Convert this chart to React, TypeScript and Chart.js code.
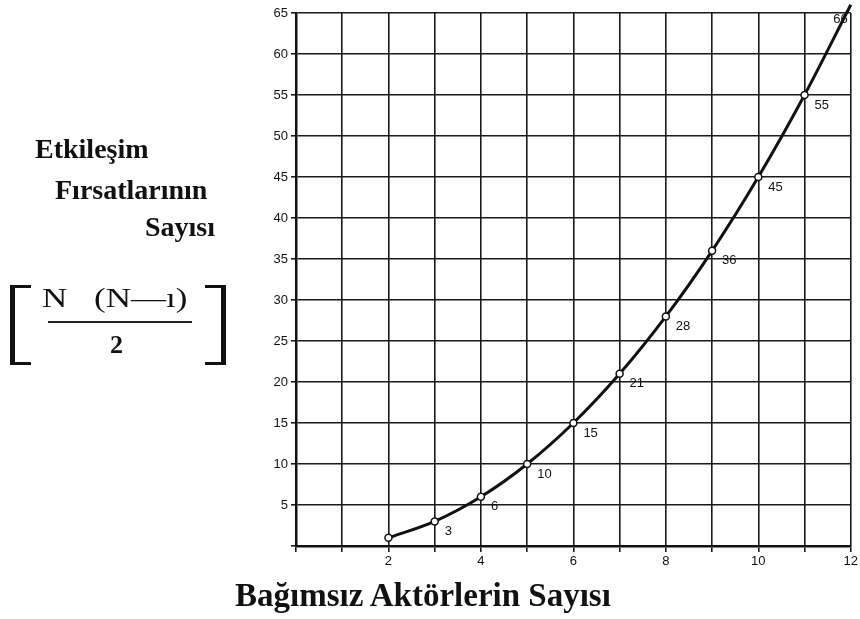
import React, { useEffect, useRef } from "react";
import { Chart, registerables } from "chart.js";

Chart.register(...registerables);

const actors = [2, 3, 4, 5, 6, 7, 8, 9, 10, 11, 12];
const opportunities = [1, 3, 6, 10, 15, 21, 28, 36, 45, 55, 66];
const pointLabels = ["", "3", "6", "10", "15", "21", "28", "36", "45", "55", "66"];
const xTickLabels = [2, 4, 6, 8, 10, 12];
const yTickLabels = [5, 10, 15, 20, 25, 30, 35, 40, 45, 50, 55, 60, 65];

const ink = "#111";
const sans = "'Liberation Sans', Arial, sans-serif";

const labelPlugin = {
  id: "pointLabels",
  afterDatasetsDraw(chart: any) {
    const ctx = chart.ctx;
    const meta = chart.getDatasetMeta(0);
    ctx.save();
    ctx.font = `13px ${sans}`;
    ctx.fillStyle = ink;
    ctx.textBaseline = "middle";
    meta.data.forEach((pt: any, i: number) => {
      const t = pointLabels[i];
      if (!t) return;
      const last = i === meta.data.length - 1;
      if (last) {
        ctx.textAlign = "right";
        ctx.fillText(t, pt.x - 3, pt.y + 15);
      } else {
        ctx.textAlign = "left";
        ctx.fillText(t, pt.x + 10, pt.y + 10);
      }
    });
    ctx.restore();
  },
};

export default function App() {
  const ref = useRef<HTMLCanvasElement | null>(null);
  useEffect(() => {
    if (!ref.current) return;
    const chart = new Chart(ref.current, {
      type: "line",
      data: {
        datasets: [
          {
            data: actors.map((x, i) => ({ x, y: opportunities[i] })),
            borderColor: ink,
            borderWidth: 3,
            pointRadius: 3.5,
            pointBackgroundColor: "#fff",
            pointBorderColor: ink,
            pointBorderWidth: 1.5,
            cubicInterpolationMode: "monotone",
            clip: false,
          } as any,
        ],
      },
      plugins: [labelPlugin],
      options: {
        animation: false,
        responsive: false,
        maintainAspectRatio: false,
        layout: { padding: { top: 13, right: 7, left: 0, bottom: 0 } },
        plugins: { legend: { display: false }, tooltip: { enabled: false } },
        scales: {
          x: {
            type: "linear",
            min: 0,
            max: 12,
            afterFit(scale: any) {
              scale.height = 73;
            },
            afterBuildTicks(scale: any) {
              scale.ticks = Array.from({ length: 13 }, (_, i) => ({ value: i }));
            },
            ticks: {
              autoSkip: false,
              maxRotation: 0,
              color: ink,
              padding: 2,
              font: { family: sans, size: 13 },
              callback: (v: any) => (xTickLabels.includes(Number(v)) ? String(v) : ""),
            },
            grid: { color: "#1a1a1a", lineWidth: 1.6, tickLength: 6, drawTicks: true },
            border: { color: ink, width: 2.5 },
          },
          y: {
            type: "linear",
            min: 0,
            max: 65,
            afterFit(scale: any) {
              scale.width = 296;
            },
            afterBuildTicks(scale: any) {
              scale.ticks = [0, ...yTickLabels].map((v) => ({ value: v }));
            },
            ticks: {
              autoSkip: false,
              color: ink,
              padding: 3,
              font: { family: sans, size: 13 },
              callback: (v: any) => (yTickLabels.includes(Number(v)) ? String(v) : ""),
            },
            grid: { color: "#1a1a1a", lineWidth: 1.6, tickLength: 5 },
            border: { color: ink, width: 2.5 },
          },
        },
      },
    });
    return () => chart.destroy();
  }, []);

  const serif = "'Liberation Serif', 'Times New Roman', serif";
  const bold: React.CSSProperties = {
    position: "absolute",
    fontFamily: serif,
    fontWeight: "bold",
    fontSize: 28,
    color: "#111",
    whiteSpace: "nowrap",
    lineHeight: 1,
  };
  const formula: React.CSSProperties = {
    position: "absolute",
    fontFamily: serif,
    fontSize: 28,
    color: "#111",
    whiteSpace: "nowrap",
    lineHeight: 1,
    transform: "scaleX(1.25)",
    transformOrigin: "left top",
  };
  return (
    <div style={{ position: "fixed", left: 0, top: 0, width: 860, height: 619, background: "#fff" }}>
      <canvas ref={ref} width={860} height={619} style={{ position: "absolute", left: 0, top: 0 }} />
      <div style={{ ...bold, left: 35, top: 135 }}>Etkileşim</div>
      <div style={{ ...bold, left: 55, top: 176 }}>Fırsatlarının</div>
      <div style={{ ...bold, left: 145, top: 213 }}>Sayısı</div>
      {/* formula */}
      <div style={{ position: "absolute", left: 10, top: 285, width: 21, height: 80, borderLeft: "5px solid #111", borderTop: "3px solid #111", borderBottom: "3px solid #111", boxSizing: "border-box" }} />
      <div style={{ position: "absolute", left: 205, top: 285, width: 21, height: 80, borderRight: "5px solid #111", borderTop: "3px solid #111", borderBottom: "3px solid #111", boxSizing: "border-box" }} />
      <div style={{ ...formula, left: 42, top: 284 }}>N</div>
      <div style={{ ...formula, left: 94, top: 284 }}>(N—ı)</div>
      <div style={{ position: "absolute", left: 48, top: 321, width: 144, height: 2, background: "#222" }} />
      <div style={{ position: "absolute", left: 110, top: 332, fontFamily: serif, fontWeight: "bold", fontSize: 26, color: "#111", lineHeight: 1 }}>2</div>
      <div style={{ ...bold, fontSize: 33, left: 235, top: 579 }}>Bağımsız Aktörlerin Sayısı</div>
    </div>
  );
}
